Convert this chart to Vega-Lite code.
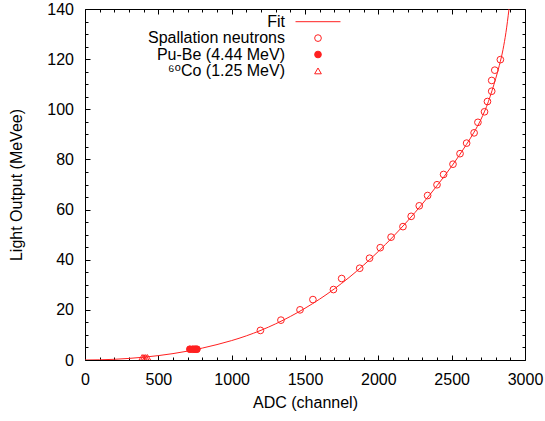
{
  "$schema": "https://vega.github.io/schema/vega-lite/v6.json",
  "width": 440,
  "height": 351,
  "autosize": {"type": "none"},
  "padding": {"left": 85, "top": 9, "right": 20, "bottom": 61},
  "background": "white",
  "config": {
    "view": {"stroke": "black", "strokeWidth": 1},
    "font": "Liberation Sans",
    "axis": {
      "domain": false, "grid": false, "tickColor": "black", "tickWidth": 1,
      "labelFont": "Liberation Sans", "labelFontSize": 16, "labelColor": "black",
      "titleFont": "Liberation Sans", "titleFontSize": 16, "titleFontWeight": "normal", "titleColor": "black",
      "labelFlush": false, "labelOverlap": false, "format": "d"
    }
  },
  "datasets": {
    "curve": [
      {"adc": 0, "light": 0}, {"adc": 100, "light": 0.07}, {"adc": 200, "light": 0.28}, {"adc": 300, "light": 0.63},
      {"adc": 400, "light": 1.12}, {"adc": 500, "light": 1.75}, {"adc": 600, "light": 2.55}, {"adc": 700, "light": 3.55},
      {"adc": 800, "light": 4.75}, {"adc": 900, "light": 6.15}, {"adc": 1000, "light": 7.75}, {"adc": 1100, "light": 9.63},
      {"adc": 1200, "light": 11.85}, {"adc": 1300, "light": 14.43}, {"adc": 1400, "light": 17.36}, {"adc": 1500, "light": 20.64},
      {"adc": 1600, "light": 24.29}, {"adc": 1700, "light": 28.37}, {"adc": 1800, "light": 32.89}, {"adc": 1900, "light": 37.87},
      {"adc": 2000, "light": 43.29}, {"adc": 2100, "light": 49.17}, {"adc": 2200, "light": 55.49}, {"adc": 2300, "light": 62.27},
      {"adc": 2400, "light": 69.52}, {"adc": 2500, "light": 77.27}, {"adc": 2600, "light": 85.9}, {"adc": 2650, "light": 90.6},
      {"adc": 2700, "light": 96.0}, {"adc": 2750, "light": 103.0}, {"adc": 2775, "light": 107.4}, {"adc": 2800, "light": 112.2},
      {"adc": 2825, "light": 117.5}, {"adc": 2850, "light": 123.8}, {"adc": 2870, "light": 130.6}, {"adc": 2891, "light": 140}
    ],
    "pts": [
      {"adc": 1196, "light": 11.8, "series": "Spallation neutrons"},
      {"adc": 1336, "light": 15.9, "series": "Spallation neutrons"},
      {"adc": 1466, "light": 20.0, "series": "Spallation neutrons"},
      {"adc": 1554, "light": 24.1, "series": "Spallation neutrons"},
      {"adc": 1694, "light": 28.1, "series": "Spallation neutrons"},
      {"adc": 1750, "light": 32.5, "series": "Spallation neutrons"},
      {"adc": 1873, "light": 36.6, "series": "Spallation neutrons"},
      {"adc": 1940, "light": 40.6, "series": "Spallation neutrons"},
      {"adc": 2013, "light": 44.8, "series": "Spallation neutrons"},
      {"adc": 2087, "light": 49.0, "series": "Spallation neutrons"},
      {"adc": 2168, "light": 53.2, "series": "Spallation neutrons"},
      {"adc": 2224, "light": 57.3, "series": "Spallation neutrons"},
      {"adc": 2279, "light": 61.5, "series": "Spallation neutrons"},
      {"adc": 2336, "light": 65.6, "series": "Spallation neutrons"},
      {"adc": 2400, "light": 69.9, "series": "Spallation neutrons"},
      {"adc": 2445, "light": 74.0, "series": "Spallation neutrons"},
      {"adc": 2509, "light": 78.1, "series": "Spallation neutrons"},
      {"adc": 2557, "light": 82.3, "series": "Spallation neutrons"},
      {"adc": 2602, "light": 86.5, "series": "Spallation neutrons"},
      {"adc": 2653, "light": 90.6, "series": "Spallation neutrons"},
      {"adc": 2679, "light": 94.8, "series": "Spallation neutrons"},
      {"adc": 2724, "light": 99.0, "series": "Spallation neutrons"},
      {"adc": 2744, "light": 103.1, "series": "Spallation neutrons"},
      {"adc": 2773, "light": 107.2, "series": "Spallation neutrons"},
      {"adc": 2773, "light": 111.5, "series": "Spallation neutrons"},
      {"adc": 2794, "light": 115.6, "series": "Spallation neutrons"},
      {"adc": 2832, "light": 119.8, "series": "Spallation neutrons"},
      {"adc": 715, "light": 4.3, "series": "Pu-Be (4.44 MeV)"},
      {"adc": 735, "light": 4.3, "series": "Pu-Be (4.44 MeV)"},
      {"adc": 750, "light": 4.3, "series": "Pu-Be (4.44 MeV)"},
      {"adc": 763, "light": 4.3, "series": "Pu-Be (4.44 MeV)"},
      {"adc": 390, "light": 1.0, "series": "⁶⁰Co (1.25 MeV)"},
      {"adc": 402, "light": 1.0, "series": "⁶⁰Co (1.25 MeV)"},
      {"adc": 414, "light": 1.0, "series": "⁶⁰Co (1.25 MeV)"},
      {"adc": 426, "light": 1.0, "series": "⁶⁰Co (1.25 MeV)"}
    ]
  },
  "layer": [
    {
      "data": {"name": "curve"},
      "mark": {"type": "line", "color": "#ff2020", "strokeWidth": 1, "interpolate": "monotone", "clip": true},
      "encoding": {
        "x": {"field": "adc", "type": "quantitative", "scale": {"domain": [0, 3000], "nice": false, "zero": false},
          "axis": {"orient": "bottom", "values": [0, 500, 1000, 1500, 2000, 2500, 3000], "tickSize": -5, "labelPadding": 16.4, "title": "ADC (channel)", "titlePadding": 7}},
        "y": {"field": "light", "type": "quantitative", "scale": {"domain": [0, 140], "nice": false, "zero": false},
          "axis": {"orient": "left", "values": [0, 20, 40, 60, 80, 100, 120, 140], "tickSize": -5, "labelPadding": 16.5, "title": "Light Output (MeVee)", "titlePadding": 22}}
      }
    },
    {
      "data": {"name": "pts"},
      "mark": {"type": "point", "size": 45, "strokeWidth": 1, "opacity": 1, "clip": true},
      "encoding": {
        "x": {"field": "adc", "type": "quantitative",
          "axis": {"orient": "bottom", "values": [100,200,300,400,600,700,800,900,1100,1200,1300,1400,1600,1700,1800,1900,2100,2200,2300,2400,2600,2700,2800,2900], "tickSize": -3, "labels": false, "title": null}},
        "y": {"field": "light", "type": "quantitative",
          "axis": {"orient": "left", "values": [5,10,15,25,30,35,45,50,55,65,70,75,85,90,95,105,110,115,125,130,135], "tickSize": -3, "labels": false, "title": null}},
        "shape": {"field": "series", "type": "nominal",
          "scale": {"domain": ["Fit", "Spallation neutrons", "Pu-Be (4.44 MeV)", "⁶⁰Co (1.25 MeV)"], "range": ["M-6.7,0L6.7,0", "circle", "circle", "triangle-up"]},
          "legend": {"orient": "none", "legendX": 225, "legendY": 4.7, "title": null, "padding": 0, "columns": 1, "labelAlign": "right", "labelOffset": -41, "labelFont": "Liberation Sans, DejaVu Sans", "labelFontSize": 16, "labelColor": "black", "labelLimit": 300, "symbolSize": 45, "symbolStrokeWidth": 1, "rowPadding": 0.4}},
        "fill": {"field": "series", "type": "nominal",
          "scale": {"domain": ["Fit", "Spallation neutrons", "Pu-Be (4.44 MeV)", "⁶⁰Co (1.25 MeV)"], "range": ["transparent", "transparent", "#ff2020", "transparent"]},
          "legend": {"orient": "none", "legendX": 225, "legendY": 4.7, "title": null, "padding": 0, "columns": 1, "labelAlign": "right", "labelOffset": -41, "labelFont": "Liberation Sans, DejaVu Sans", "labelFontSize": 16, "labelColor": "black", "labelLimit": 300, "symbolSize": 45, "symbolStrokeWidth": 1, "rowPadding": 0.4}},
        "stroke": {"field": "series", "type": "nominal",
          "scale": {"domain": ["Fit", "Spallation neutrons", "Pu-Be (4.44 MeV)", "⁶⁰Co (1.25 MeV)"], "range": ["#ff2020", "#ff2020", "#ff2020", "#ff2020"]},
          "legend": {"orient": "none", "legendX": 225, "legendY": 4.7, "title": null, "padding": 0, "columns": 1, "labelAlign": "right", "labelOffset": -41, "labelFont": "Liberation Sans, DejaVu Sans", "labelFontSize": 16, "labelColor": "black", "labelLimit": 300, "symbolSize": 45, "symbolStrokeWidth": 1, "rowPadding": 0.4}}
      }
    },
    {
      "data": {"name": "curve"},
      "mark": {"type": "line", "opacity": 0},
      "encoding": {
        "x": {"field": "adc", "type": "quantitative",
          "axis": {"orient": "top", "values": [0, 500, 1000, 1500, 2000, 2500, 3000], "tickSize": -5, "labels": false, "title": null}},
        "y": {"field": "light", "type": "quantitative",
          "axis": {"orient": "right", "values": [0, 20, 40, 60, 80, 100, 120, 140], "tickSize": -5, "labels": false, "title": null}}
      }
    },
    {
      "data": {"name": "curve"},
      "mark": {"type": "line", "opacity": 0},
      "encoding": {
        "x": {"field": "adc", "type": "quantitative",
          "axis": {"orient": "top", "values": [100,200,300,400,600,700,800,900,1100,1200,1300,1400,1600,1700,1800,1900,2100,2200,2300,2400,2600,2700,2800,2900], "tickSize": -3, "labels": false, "title": null}},
        "y": {"field": "light", "type": "quantitative",
          "axis": {"orient": "right", "values": [5,10,15,25,30,35,45,50,55,65,70,75,85,90,95,105,110,115,125,130,135], "tickSize": -3, "labels": false, "title": null}}
      }
    }
  ],
  "resolve": {"axis": {"x": "independent", "y": "independent"}}
}
